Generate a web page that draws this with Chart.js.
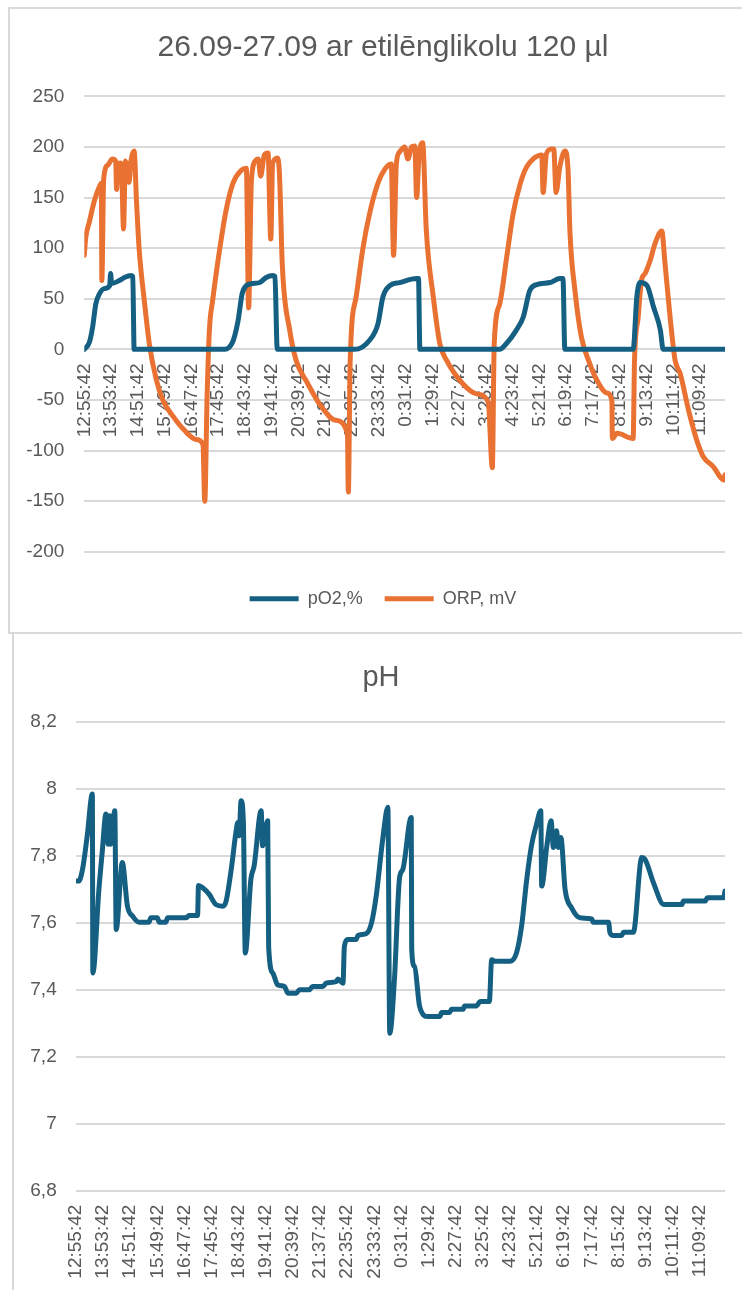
<!DOCTYPE html>
<html>
<head>
<meta charset="utf-8">
<script src="https://cdn.jsdelivr.net/npm/chart.js@4.4.0/dist/chart.umd.min.js"></script>
<style>
  html, body { margin: 0; padding: 0; background: #ffffff; }
  body { width: 742px; height: 1290px; position: relative; overflow: hidden; }
  .box { position: absolute; border: 2px solid #d9d9d9; box-sizing: border-box; }
  canvas { position: absolute; left: 0; }
</style>
</head>
<body>
<div class="box" style="left:8px; top:7px; width:800px; height:627px;"></div>
<div class="box" style="left:12px; top:632px; width:800px; height:800px;"></div>
<canvas id="c1" width="742" height="632" style="top:0px;"></canvas>
<canvas id="c2" width="742" height="656" style="top:634px;"></canvas>
<script>
// ---------- data ----------
const chart1Title = '26.09-27.09 ar etilēnglikolu 120 µl';
const chart2Title = 'pH';
const seriesNames = ['pO2,%', 'ORP, mV'];

// x positions are minutes after 12:55:42
const tickLabels = ['12:55:42','13:53:42','14:51:42','15:49:42','16:47:42','17:45:42','18:43:42','19:41:42',
  '20:39:42','21:37:42','22:35:42','23:33:42','0:31:42','1:29:42','2:27:42','3:25:42','4:23:42','5:21:42',
  '6:19:42','7:17:42','8:15:42','9:13:42','10:11:42','11:09:42'];
const tickMinutes = [0,58,116,174,232,290,348,406,464,522,580,638,696,754,812,870,928,986,1044,1102,1160,1218,1276,1334];
const lastMinute = 1388;

const orpMinutes = [0,3,11,22,33,37,38,42,51,61,68,70,73,78,81,85,89,94,97,101,108,113,119,130,141,156,170,192,217,242,257,261,266,271,
  278,293,307,322,340,351,356,362,372,377,382,390,398,404,408,419,423,429,445,459,483,514,544,570,572,576,
  589,604,618,633,647,665,670,676,683,694,701,709,716,720,725,733,741,756,770,785,820,850,875,884,888,
  900,915,929,944,958,972,991,994,1001,1012,1017,1022,1030,1041,1048,1052,1063,1077,1095,1110,1132,1143,1144,1154,1189,1192,
  1200,1207,1215,1226,1236,1251,1258,1269,1280,1291,1309,1327,1341,1363,1385,1388];
const orpValues = [93,110,126,147,161,164,68,168,182,188,186,158,183,184,176,119,186,178,165,186,196,147,98,48,5,-30,-50,-66,-80,-89,-94,-150,-47,19,
  48,98,137,164,177,179,41,167,187,188,171,192,194,109,184,189,171,83,19,-11,-33,-57,-70,-83,-141,-11,
  52,101,134,160,175,183,93,183,195,200,188,200,201,150,190,204,117,52,6,-11,-34,-44,-52,-117,5,
  45,91,134,163,180,188,192,155,193,198,198,155,180,196,177,117,58,12,-14,-30,-43,-51,-88,-83,-88,-11,
  32,68,75,88,104,117,85,32,-11,-24,-60,-90,-106,-116,-129,-124];

const po2Minutes = [0,11,18,25,33,43,55,57,59,76,87,101,105,108,304,322,333,342,351,365,380,394,408,413,418,
  586,618,636,647,662,683,720,724,727,900,915,936,951,965,980,1009,1030,1037,1041,1189,1197,1204,1219,1233,1248,1254,1388];
const po2Values = [0,7,22,45,55,60,63,75,65,68,71,73,72,0,0,8,28,55,63,65,66,71,73,72,0,
  0,9,25,52,63,66,70,70,0,0,6,19,32,58,64,66,70,70,0,0,52,66,63,42,19,0,0];

const phMinutes = [0,6,14,24,35,36,49,56,64,69,72,74,83,86,99,110,121,135,156,160,174,178,192,196,235,242,260,262,271,285,299,314,321,
  332,342,346,349,353,358,362,374,381,396,399,410,412,421,431,446,453,471,478,499,506,528,535,557,560,571,574,581,599,603,621,632,642,656,667,
  671,681,692,699,717,718,724,735,753,778,782,799,803,828,831,857,864,884,889,896,928,942,953,964,974,985,994,996,1007,1016,1021,1028,1031,1037,
  1046,1060,1078,1103,1106,1139,1142,1149,1167,1171,1192,1210,1217,1235,1257,1296,1299,1346,1350,1385,1388];
const phValues = [7.725,7.725,7.76,7.86,7.985,7.45,7.70,7.81,7.925,7.835,7.92,7.835,7.935,7.58,7.78,7.65,7.62,7.602,7.602,7.615,7.615,7.602,7.602,7.615,7.615,7.622,7.622,7.712,7.705,7.685,7.655,7.65,7.665,
  7.76,7.87,7.90,7.86,7.965,7.90,7.51,7.73,7.77,7.935,7.83,7.905,7.53,7.45,7.415,7.41,7.39,7.39,7.40,7.40,7.41,7.41,7.42,7.425,7.432,7.42,7.53,7.55,7.55,7.562,7.568,7.60,7.68,7.85,7.945,
  7.27,7.43,7.735,7.76,7.915,7.52,7.47,7.35,7.32,7.32,7.332,7.332,7.342,7.342,7.352,7.352,7.365,7.365,7.49,7.485,7.485,7.51,7.59,7.73,7.83,7.895,7.935,7.71,7.83,7.905,7.825,7.875,7.825,7.855,
  7.70,7.645,7.615,7.612,7.602,7.602,7.57,7.562,7.562,7.572,7.572,7.795,7.79,7.72,7.655,7.655,7.665,7.665,7.675,7.675,7.695];

const phTickValues = [6.8,7,7.2,7.4,7.6,7.8,8,8.2];
const phTickLabels = ['6,8','7','7,2','7,4','7,6','7,8','8','8,2'];

// ---------- styling ----------
const FONT = 'Liberation Sans';
const TEXT = '#595959';
const GRID = '#d9d9d9';
const BLUE = '#156082';
const ORANGE = '#E97132';
Chart.defaults.font.family = FONT;
Chart.defaults.color = TEXT;

const toPoints = (xs, ys) => xs.map((m, i) => ({x: m, y: ys[i]}));
const lineStyle = (color) => ({
  borderColor: color, backgroundColor: color, borderWidth: 5,
  pointRadius: 0, pointHoverRadius: 0, fill: false,
  cubicInterpolationMode: 'monotone', borderJoinStyle: 'round', borderCapStyle: 'round'
});
const xTicks = (ax) => { ax.ticks = tickMinutes.map(v => ({value: v})); };
// let the y tick labels extend left of the (narrow) axis box without being clipped
const yFit = (w) => (s) => { s.width = w; s._computeLabelArea = () => undefined; };

new Chart(document.getElementById('c1'), {
  type: 'line',
  data: {
    datasets: [
      Object.assign({label: seriesNames[0], data: toPoints(po2Minutes, po2Values)}, lineStyle(BLUE)),
      Object.assign({label: seriesNames[1], data: toPoints(orpMinutes, orpValues)}, lineStyle(ORANGE))
    ]
  },
  options: {
    responsive: false, animation: false, maintainAspectRatio: false,
    layout: {padding: {left: 41, right: 17, top: 0, bottom: 14.2}},
    plugins: {
      title: {display: true, text: chart1Title, color: TEXT, font: {size: 30, weight: 'normal', lineHeight: 1.2}, padding: {top: 30, bottom: 30.3}},
      legend: {
        position: 'bottom',
        labels: {usePointStyle: true, pointStyle: 'line', pointStyleWidth: 49, color: TEXT, font: {size: 18}, padding: 22},
        title: {display: true, text: '', font: {size: 10, lineHeight: 1}, padding: {top: 0, bottom: 6}}
      },
      tooltip: {enabled: false}
    },
    scales: {
      x: {
        type: 'linear', position: {y: 0}, min: 0, max: lastMinute,
        grid: {display: false, drawTicks: false}, border: {display: false},
        afterBuildTicks: xTicks,
        ticks: {autoSkip: false, maxRotation: 90, minRotation: 90, padding: 14, color: TEXT, font: {size: 19},
          callback: (v, i) => tickLabels[i]}
      },
      y: {
        min: -200, max: 250,
        afterFit: yFit(43.3),
        ticks: {stepSize: 50, padding: 20, color: TEXT, font: {size: 19}},
        grid: {color: GRID, lineWidth: 2, drawTicks: false},
        border: {display: false}
      }
    }
  }
});

new Chart(document.getElementById('c2'), {
  type: 'line',
  data: {
    datasets: [
      Object.assign({label: chart2Title, data: toPoints(phMinutes, phValues)}, lineStyle(BLUE))
    ]
  },
  options: {
    responsive: false, animation: false, maintainAspectRatio: false,
    layout: {padding: {left: 37, right: 17, top: 0, bottom: 0}},
    plugins: {
      title: {display: true, text: chart2Title, color: TEXT, font: {size: 29, weight: 'normal', lineHeight: 1.2}, padding: {top: 27, bottom: 26.2}},
      legend: {display: false},
      tooltip: {enabled: false}
    },
    scales: {
      x: {
        type: 'linear', position: 'bottom', min: 0, max: lastMinute,
        grid: {display: false, drawTicks: false}, border: {display: false},
        afterBuildTicks: xTicks,
        afterFit: (s) => { s.height = 99.3; },
        ticks: {autoSkip: false, maxRotation: 90, minRotation: 90, padding: 14, color: TEXT, font: {size: 19},
          callback: (v, i) => tickLabels[i]}
      },
      y: {
        min: 6.8, max: 8.2,
        afterBuildTicks: (ax) => { ax.ticks = phTickValues.map(v => ({value: v})); },
        afterFit: yFit(39),
        ticks: {padding: 19.3, color: TEXT, font: {size: 19}, callback: (v, i) => phTickLabels[i]},
        grid: {color: GRID, lineWidth: 2, drawTicks: false},
        border: {display: false}
      }
    }
  }
});
</script>
</body>
</html>
